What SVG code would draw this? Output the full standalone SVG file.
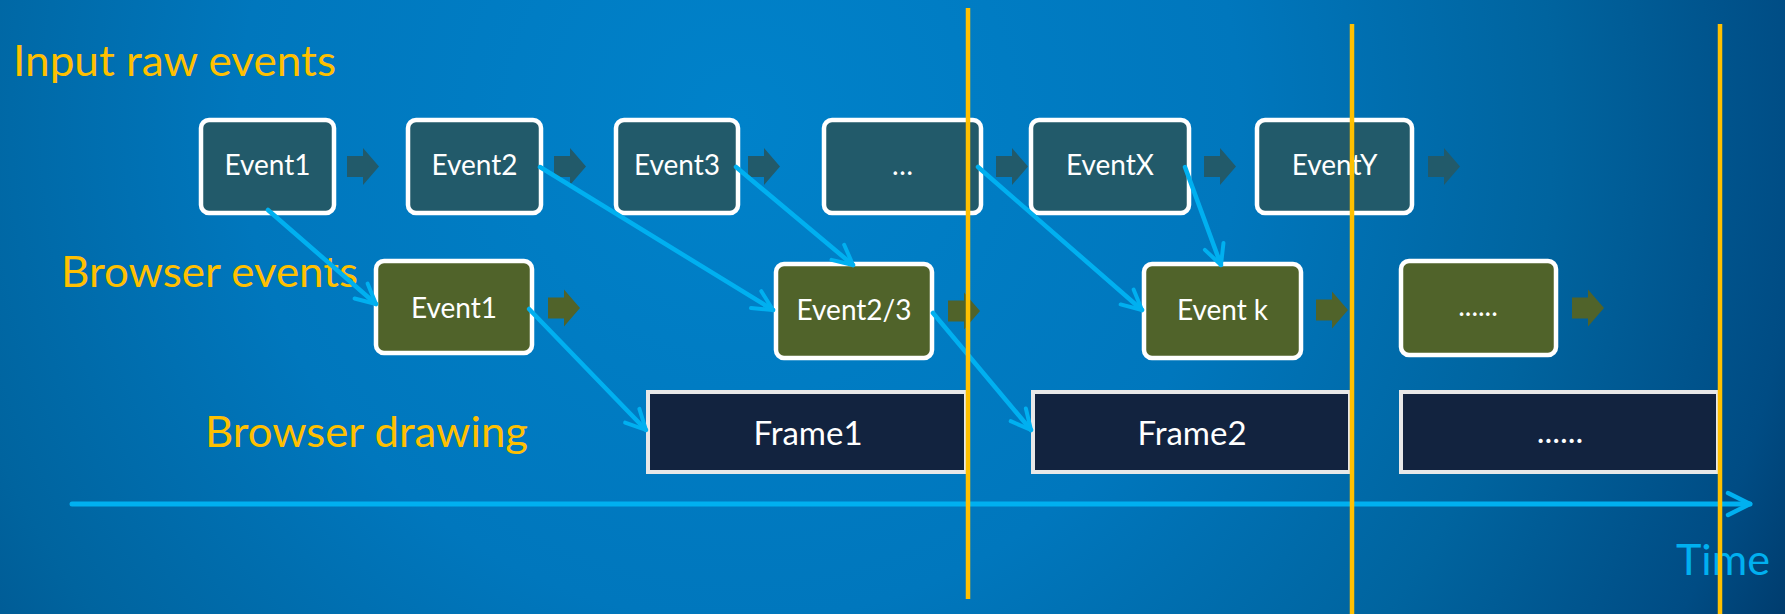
<svg xmlns="http://www.w3.org/2000/svg" width="1785" height="614" viewBox="0 0 1785 614">
<defs>
<radialGradient id="bg" gradientUnits="userSpaceOnUse" cx="740" cy="120" r="1250">
<stop offset="0" stop-color="#0082CA"/>
<stop offset="0.4" stop-color="#0077BD"/>
<stop offset="0.65" stop-color="#00649F"/>
<stop offset="0.85" stop-color="#004C84"/>
<stop offset="1" stop-color="#002D58"/>
</radialGradient>
<marker id="ah" viewBox="0 0 10 10" refX="9" refY="5" markerWidth="5.5" markerHeight="5.5" orient="auto" markerUnits="strokeWidth">
<path d="M1,1 L9,5 L1,9" fill="none" stroke="#00B0F0" stroke-width="1.6" stroke-linecap="round" stroke-linejoin="round"/>
</marker>
<path id="blk" d="M0,-10.5 H16 V-18.5 L32,0 L16,18.5 V10.5 H0 Z"/>
</defs>
<style>
.lbl{font-family:Lato,"Open Sans","Liberation Sans",sans-serif;font-size:42px;fill:#FFC000}
.txt{font-family:Lato,"Open Sans","Liberation Sans",sans-serif;font-size:28px;fill:#FFFFFF;text-anchor:middle}
.ftxt{font-family:Lato,"Open Sans","Liberation Sans",sans-serif;font-size:33px;fill:#FFFFFF;text-anchor:middle}
.raw{fill:#225A6A;stroke:#FFFFFF;stroke-width:4.5}
.brw{fill:#50632A;stroke:#FFFFFF;stroke-width:4.5}
.frm{fill:#12233F;stroke:#E8E8E8;stroke-width:4}
.rawa{fill:#225A6A}
.brwa{fill:#50632A}
.con{stroke:#00B0F0;stroke-width:4.5;fill:none;stroke-linecap:round;marker-end:url(#ah)}
.tl{stroke:#FFC000;stroke-width:4.5}
</style>
<rect x="0" y="0" width="1785" height="614" fill="url(#bg)"/>

<g id="labels">
<text class="lbl" x="13" y="76" textLength="323" lengthAdjust="spacingAndGlyphs">Input raw events</text>
<text class="lbl" x="61" y="287" textLength="297" lengthAdjust="spacingAndGlyphs">Browser events</text>
<text class="lbl" x="205" y="447" textLength="323" lengthAdjust="spacingAndGlyphs">Browser drawing</text>
<text class="lbl" x="1676" y="575" textLength="94" lengthAdjust="spacingAndGlyphs" style="fill:#00B0F0">Time</text>
</g>

<g id="raw-event1"><rect class="raw" x="201" y="120" width="133" height="93" rx="8"/><text class="txt" x="267.5" y="175">Event1</text></g>
<g id="raw-event2"><rect class="raw" x="408" y="120" width="133" height="93" rx="8"/><text class="txt" x="474.5" y="175">Event2</text></g>
<g id="raw-event3"><rect class="raw" x="616" y="120" width="122" height="93" rx="8"/><text class="txt" x="677" y="175">Event3</text></g>
<g id="raw-dots"><rect class="raw" x="824" y="120" width="157" height="93" rx="8"/><text class="txt" x="902.5" y="175">…</text></g>
<g id="raw-eventx"><rect class="raw" x="1031" y="120" width="158" height="93" rx="8"/><text class="txt" x="1110" y="175">EventX</text></g>
<g id="raw-eventy"><rect class="raw" x="1257" y="120" width="155" height="93" rx="8"/><text class="txt" x="1334.5" y="175">EventY</text></g>

<g id="browser-event1"><rect class="brw" x="376" y="261" width="156" height="92" rx="8"/><text class="txt" x="454" y="318">Event1</text></g>
<g id="browser-event23"><rect class="brw" x="776" y="264" width="156" height="94" rx="8"/><text class="txt" x="854" y="320">Event2/3</text></g>
<g id="browser-eventk"><rect class="brw" x="1144" y="264" width="157" height="94" rx="8"/><text class="txt" x="1222.5" y="320">Event k</text></g>
<g id="browser-dots"><rect class="brw" x="1401" y="261" width="155" height="94" rx="8"/><text class="txt" x="1478" y="316">......</text></g>

<g id="frame1"><rect class="frm" x="648" y="392" width="318" height="80"/><text class="ftxt" x="808" y="445">Frame1</text></g>
<g id="frame2"><rect class="frm" x="1033" y="392" width="317" height="80"/><text class="ftxt" x="1192" y="445">Frame2</text></g>
<g id="frame3"><rect class="frm" x="1401" y="392" width="317" height="80"/><text class="ftxt" x="1560" y="443">......</text></g>

<g id="step-arrows">
<use href="#blk" class="rawa" x="347" y="166.5"/>
<use href="#blk" class="rawa" x="554" y="166.5"/>
<use href="#blk" class="rawa" x="748" y="166.5"/>
<use href="#blk" class="rawa" x="996" y="166.5"/>
<use href="#blk" class="rawa" x="1204" y="166.5"/>
<use href="#blk" class="rawa" x="1428" y="166.5"/>
<use href="#blk" class="brwa" x="548" y="308"/>
<use href="#blk" class="brwa" x="948" y="311"/>
<use href="#blk" class="brwa" x="1316" y="310"/>
<use href="#blk" class="brwa" x="1572" y="308"/>
</g>

<g id="connectors">
<line class="con" x1="268" y1="210" x2="376" y2="304"/>
<line class="con" x1="540" y1="167" x2="773" y2="310"/>
<line class="con" x1="736" y1="167" x2="853" y2="265"/>
<line class="con" x1="978" y1="167" x2="1142" y2="310"/>
<line class="con" x1="1185" y1="167" x2="1221" y2="265"/>
<line class="con" x1="529" y1="309" x2="646" y2="430"/>
<line class="con" x1="933" y1="313" x2="1031" y2="430"/>
<line class="con" x1="72" y1="504" x2="1750" y2="504" style="stroke-width:5"/>
</g>

<g id="time-lines">
<line class="tl" x1="968" y1="8" x2="968" y2="599"/>
<line class="tl" x1="1352" y1="24" x2="1352" y2="614"/>
<line class="tl" x1="1720" y1="24" x2="1720" y2="614"/>
</g>
</svg>
